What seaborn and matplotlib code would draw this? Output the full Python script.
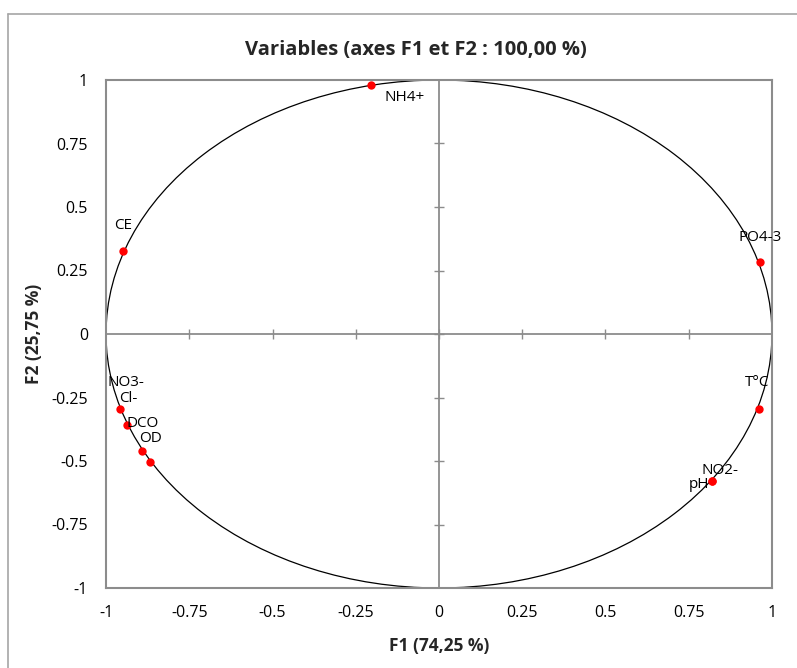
import numpy as np
import pandas as pd
import matplotlib
matplotlib.use("Agg")
import matplotlib.pyplot as plt
from matplotlib.patches import Circle
import seaborn as sns

# Correlations of the variables with the first two factors
variables = ["NH4+", "CE", "PO4-3", "T°C", "NO2-", "pH", "NO3-", "Cl-", "DCO", "OD"]
f1 = [-0.203, -0.949, 0.964, 0.961, 0.820, 0.820, -0.958, -0.937, -0.892, -0.868]
f2 = [0.980, 0.327, 0.283, -0.295, -0.579, -0.579, -0.295, -0.358, -0.461, -0.504]

tick_values = [-1, -0.75, -0.5, -0.25, 0, 0.25, 0.5, 0.75, 1]
tick_labels = ["-1", "-0.75", "-0.5", "-0.25", "0", "0.25", "0.5", "0.75", "1"]

df = pd.DataFrame({"variable": variables, "F1": f1, "F2": f2})

sns.set_theme(style="white")
plt.rcParams["font.family"] = ["Open Sans", "DejaVu Sans"]

fig = plt.figure(figsize=(7.97, 6.68), dpi=100)
ax = fig.add_axes([106 / 797, 1 - 588 / 668, 666 / 797, 508 / 668])

grey = "#8c8c8c"

# unit correlation circle
ax.add_patch(Circle((0, 0), 1, fill=False, edgecolor="black", linewidth=0.9, zorder=2))

# central axes with crossing tick marks
ax.axhline(0, color=grey, linewidth=1.3, zorder=1)
ax.axvline(0, color=grey, linewidth=1.3, zorder=1)
inner = [t for t in tick_values if abs(t) < 1]
ax.plot(inner, [0] * len(inner), linestyle="none", marker="|", markersize=7,
        markeredgewidth=1.0, color=grey, zorder=1)
ax.plot([0] * len(inner), inner, linestyle="none", marker="_", markersize=7,
        markeredgewidth=1.0, color=grey, zorder=1)

sns.scatterplot(data=df, x="F1", y="F2", color="#ff0000", s=36, linewidth=0,
                ax=ax, zorder=4, legend=False)

# label placement (pixel offsets from each point)
offsets = {
    "NH4+": (33, -12), "CE": (0, 25), "PO4-3": (0, 25), "T°C": (-2, 26),
    "NO2-": (8, 11), "pH": (-13, -3), "NO3-": (6, 26), "Cl-": (1, 26),
    "DCO": (1, 28), "OD": (1, 24),
}
for name, x, y in zip(variables, f1, f2):
    dx, dy = offsets[name]
    ax.annotate(name, (x, y), xytext=(dx, dy), textcoords="offset pixels",
                ha="center", va="center", fontsize=11, color="black", zorder=5)

ax.set_xlim(-1, 1)
ax.set_ylim(-1, 1)
ax.set_xticks(tick_values)
ax.set_xticklabels(tick_labels)
ax.set_yticks(tick_values)
ax.set_yticklabels(tick_labels)
ax.tick_params(axis="both", length=0, labelsize=11.5, colors="black")
ax.tick_params(axis="x", pad=12)
ax.tick_params(axis="y", pad=13)

for sp in ax.spines.values():
    sp.set_color(grey)
    sp.set_linewidth(1.5)

ax.set_xlabel("F1 (74,25 %)", fontsize=12.5, fontweight="bold", labelpad=12)
ax.set_ylabel("F2 (25,75 %)", fontsize=12.5, fontweight="bold", labelpad=6)

fig.text(415.5 / 797, 1 - 50 / 668, "Variables (axes F1 et F2 : 100,00 %)",
         ha="center", va="center", fontsize=14.5, fontweight="bold")

# chart area frame
fig.add_artist(plt.Line2D([8 / 797, 8 / 797], [0, 1 - 14 / 668],
                          transform=fig.transFigure, color="#a6a6a6", linewidth=1.2))
fig.add_artist(plt.Line2D([8 / 797, 1], [1 - 14 / 668, 1 - 14 / 668],
                          transform=fig.transFigure, color="#a6a6a6", linewidth=1.2))

fig.savefig("out.png", dpi=100)
